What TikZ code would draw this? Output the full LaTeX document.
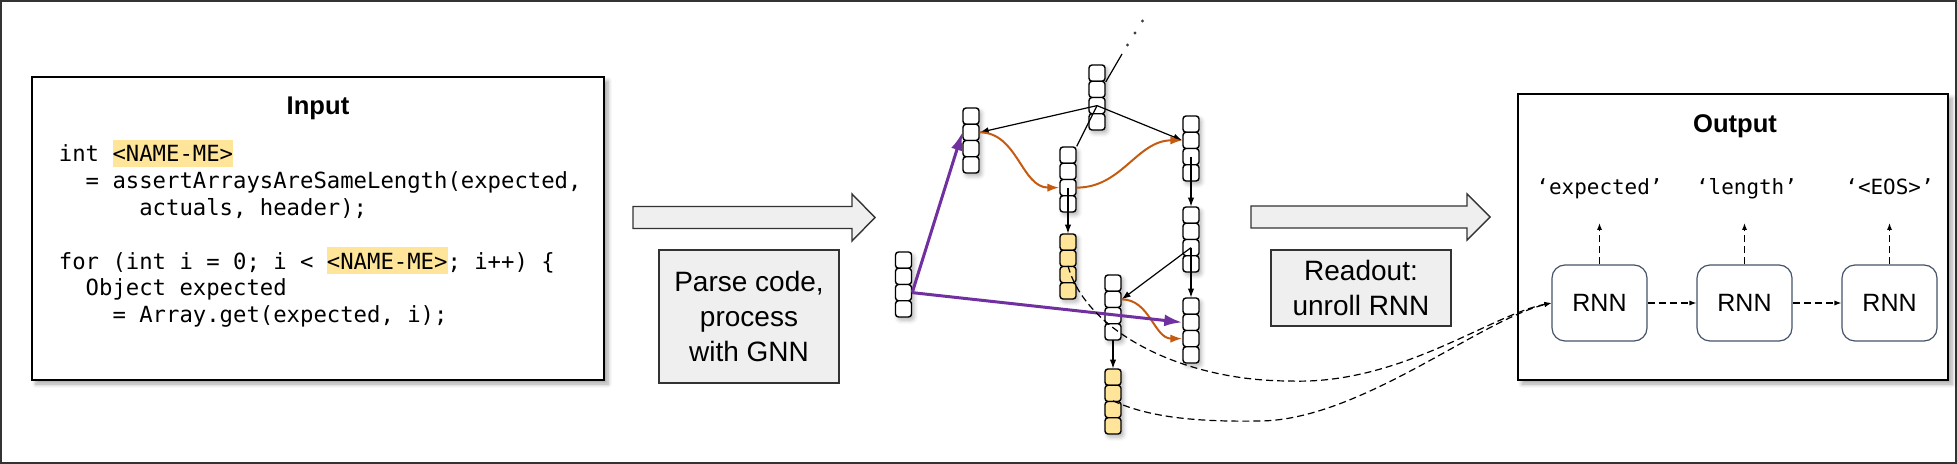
\documentclass[tikz,border=0pt]{standalone}
\usepackage{fontspec}
\setmainfont{Liberation Sans}
\setmonofont{DejaVu Sans Mono}
\usetikzlibrary{arrows.meta,shadows.blur}
\definecolor{hlyellow}{HTML}{FFE599}
\definecolor{boxgray}{HTML}{EFEFEF}
\definecolor{gpurple}{HTML}{7030A0}
\definecolor{gorange}{HTML}{C55A11}
\definecolor{rnnblue}{HTML}{44546A}
\definecolor{framegray}{HTML}{333333}
\tikzset{
  bigbox/.style={draw=black, line width=1.25pt, fill=white, inner sep=0,
    blur shadow={shadow xshift=2pt, shadow yshift=-2pt, shadow blur steps=6, shadow opacity=35}},
  titletext/.style={font=\fontsize{12.8}{15}\selectfont\bfseries, anchor=base, inner sep=0},
  code/.style={font=\fontsize{11.13}{13.4}\selectfont\ttfamily, anchor=base west, inner sep=0},
  hl/.style={code, fill=hlyellow, text height=11pt, text depth=2.5pt},
  graybox/.style={draw=framegray, line width=0.7pt, fill=boxgray, inner sep=0, align=center,
    font=\fontsize{14}{17.5}\selectfont},
  blockarrow/.style={draw=framegray, line width=0.7pt, fill=boxgray, line join=miter},
  cell/.style={draw=black, line width=0.7pt, rounded corners=1.5pt, minimum width=8pt,
    minimum height=8.125pt, inner sep=0},
  vecbg/.style={fill=white, rounded corners=1.5pt, minimum width=8pt, minimum height=32.5pt, inner sep=0,
    blur shadow={shadow xshift=1.2pt, shadow yshift=-1.5pt, shadow blur steps=4, shadow opacity=30}},
  gedge/.style={draw=black, line width=0.6pt, -{Latex[length=4.5pt,width=3.2pt]}},
  gline/.style={draw=black, line width=0.6pt},
  oedge/.style={draw=gorange, line width=1pt, -{Latex[length=6pt,width=4.2pt]}},
  pedge/.style={draw=gpurple, line width=1.5pt, -{Latex[length=9pt,width=6pt]}},
  rnn/.style={draw=rnnblue, line width=0.6pt, rounded corners=6.5pt, minimum width=47.5pt,
    minimum height=38pt, fill=white, font=\fontsize{12.5}{15}\selectfont, inner sep=0},
  dedge/.style={draw=black, line width=0.6pt, dash pattern=on 3.5pt off 2pt,
    -{Latex[length=3.5pt,width=2.6pt]}},
  outlabel/.style={font=\fontsize{10.47}{12}\selectfont\ttfamily, anchor=base, inner sep=0},
  gdot/.style={circle, fill=black!75, inner sep=0, minimum size=1.6pt},
}
\newcommand{\gnnvec}[4]{%
  \node[vecbg] (#1) at ({#2},{#3+32.5}) {};
  \foreach \i in {1,...,4} \node[cell, fill=#4] (#1-\i) at ({#2},{#3+8.125+(\i-1)*16.25}) {};
}
\begin{document}
\begin{tikzpicture}[x=0.5pt,y=-0.5pt]
\useasboundingbox (0,0) rectangle (1957,464);
\draw[framegray, line width=1pt] (1,1) rectangle (1956,463);

% Input box
\node[bigbox, minimum width=286pt, minimum height=151.5pt] (inbox) at (318,228.5) {};
\node[titletext] (tin) at (318,115) {Input};
\node[code] (c1) at (58.5,162) {int};
\node[hl] (n1) at (112.1,162) {<NAME-ME>};
\node[code] (c2) at (85.3,188.8) {= assertArraysAreSameLength(expected,};
\node[code] (c3) at (138.9,215.6) {actuals, header);};
\node[code] (c5) at (58.5,269.2) {for (int i = 0; i <};
\node[hl] (n2) at (326.5,269.2) {<NAME-ME>};
\node[code] (c5b) at (447.1,269.2) {; i++) \{};
\node[code] (c6) at (85.3,296) {Object expected};
\node[code] (c7) at (112.1,322.8) {= Array.get(expected, i);};

% block arrows and step boxes
\draw[blockarrow] (633,206.5) -- (852,206.5) -- (852,194) -- (875,217.5) -- (852,241) -- (852,228.5) -- (633,228.5) -- cycle;
\node[graybox, minimum width=90pt, minimum height=66.5pt] (parse) at (749,316.5) {Parse code,\\process\\with GNN};
\draw[blockarrow] (1251,206) -- (1467,206) -- (1467,194) -- (1490,217) -- (1467,240) -- (1467,228) -- (1251,228) -- cycle;
\node[graybox, minimum width=90pt, minimum height=38pt] (readout) at (1361,288) {Readout:\\unroll RNN};

% graph vectors
\gnnvec{L}{903.5}{252}{white}
\gnnvec{A}{971}{108}{white}
\gnnvec{T}{1097}{65}{white}
\gnnvec{M}{1068}{147}{white}
\gnnvec{Ra}{1191}{116}{white}
\gnnvec{Rb}{1191}{207}{white}
\gnnvec{Ya}{1068}{234}{hlyellow}
\gnnvec{B}{1113}{275}{white}
\gnnvec{Rc}{1191}{298}{white}
\gnnvec{Yb}{1113}{369}{hlyellow}

% graph edges
\coordinate (tp) at (1122,54);
\node[gdot] (d1) at (1127.5,45) {};
\node[gdot] (d2) at (1135,33) {};
\node[gdot] (d3) at (1142.5,21) {};
\draw[gline] (T-1.south east) -- (tp);
\draw[gline] (M-1.north east) -- (T-3.center);
\draw[gedge] (T-3.center) -- (A-2.east);
\draw[gedge] (T-3.center) -- (Ra-2.west);
\draw[oedge] (A-2.east) to[out=0,in=180] (M-3.west);
\draw[oedge] (M-3.east) to[out=0,in=180] (Ra-2.west);
\draw[gedge] (M-3.center) -- (Ya.north);
\draw[gedge] (Ra-3.center) -- (Rb.north);
\draw[gedge] (Rb-3.center) -- (B-2.east);
\draw[gedge] (Rb-3.center) -- (Rc.north);
\draw[gedge] (B.south) -- (Yb.north);
\draw[oedge] (B-2.east) to[out=0,in=180] (Rc-3.west);
\draw[pedge] (L-3.east) -- (A-2.west);
\draw[pedge] (L-3.east) -- (Rc-2.west);

% Output box
\node[bigbox, minimum width=215pt, minimum height=143pt] (outbox) at (1733,237) {};
\node[titletext] (tout) at (1735,133) {Output};
\node[rnn] (r1) at (1599.5,303) {RNN};
\node[rnn] (r2) at (1744.5,303) {RNN};
\node[rnn] (r3) at (1889.5,303) {RNN};
\node[outlabel] (o1) at (1599.5,195) {‘expected’};
\node[outlabel] (o2) at (1746.5,195) {‘length’};
\node[outlabel] (o3) at (1889.5,195) {‘<EOS>’};
\coordinate (u1) at (1599.5,223);
\coordinate (u2) at (1744.5,223);
\coordinate (u3) at (1889.5,223);
\draw[dedge] (r1.north) -- (u1);
\draw[dedge] (r2.north) -- (u2);
\draw[dedge] (r3.north) -- (u3);
\draw[dedge] (r1.east) -- (r2.west);
\draw[dedge] (r2.east) -- (r3.west);

% readout connections
\draw[dedge] (Ya-3.north) .. controls (1085,330) and (1180,381) .. (1290,381)
  .. controls (1400,385) and (1490,315) .. (r1.west);
\draw[dedge] (Yb-3.north) .. controls (1150,418) and (1200,422) .. (1260,421)
  .. controls (1360,420) and (1480,320) .. (r1.west);
\end{tikzpicture}
\end{document}
